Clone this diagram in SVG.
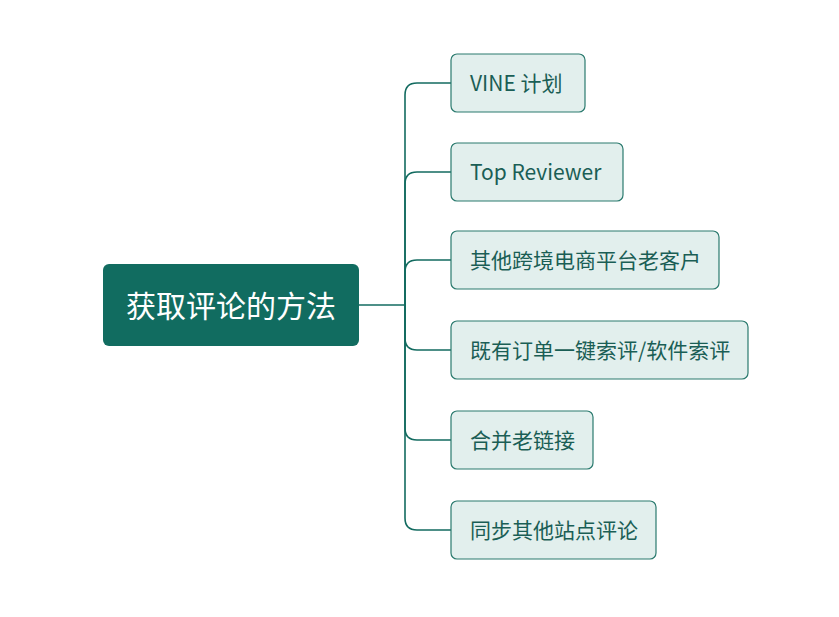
<svg xmlns="http://www.w3.org/2000/svg" width="839" height="617" viewBox="0 0 839 617">
<style>
.child rect{fill:#E2EFED;stroke:#2A7A6E;stroke-width:1.2}
.child text{font-family:"Noto Sans CJK SC","Microsoft YaHei",sans-serif;font-size:21px;fill:#1A5E55;dominant-baseline:central}
.conn path{fill:none;stroke:#136B60;stroke-width:1.6}
</style>
<rect width="839" height="617" fill="#FFFFFF"/>
<g class="conn">
<path d="M359 305 H405"/>
<path d="M405 305 V95 Q405 83 417 83 H451"/>
<path d="M405 305 V184 Q405 172 417 172 H451"/>
<path d="M405 305 V272 Q405 260 417 260 H451"/>
<path d="M405 305 V338 Q405 350 417 350 H451"/>
<path d="M405 305 V428 Q405 440 417 440 H451"/>
<path d="M405 305 V518 Q405 530 417 530 H451"/>
</g>
<g id="root">
<rect x="103" y="264" width="256" height="82" rx="6" fill="#116C60"/>
<text x="231" y="304" text-anchor="middle" dominant-baseline="central" font-family="Noto Sans CJK SC, Microsoft YaHei, sans-serif" font-size="30" fill="#FFFFFF">获取评论的方法</text>
</g>
<g id="n1" class="child"><rect x="451" y="54" width="134" height="58" rx="6"/><text x="470" y="82">VINE 计划</text></g>
<g id="n2" class="child"><rect x="451" y="143" width="172" height="58" rx="6"/><text x="470" y="171">Top Reviewer</text></g>
<g id="n3" class="child"><rect x="451" y="231" width="268" height="58" rx="6"/><text x="470" y="259">其他跨境电商平台老客户</text></g>
<g id="n4" class="child"><rect x="451" y="321" width="297" height="58" rx="6"/><text x="470" y="349">既有订单一键索评/软件索评</text></g>
<g id="n5" class="child"><rect x="451" y="411" width="142" height="58" rx="6"/><text x="470" y="439">合并老链接</text></g>
<g id="n6" class="child"><rect x="451" y="501" width="205" height="58" rx="6"/><text x="470" y="529">同步其他站点评论</text></g>
</svg>
